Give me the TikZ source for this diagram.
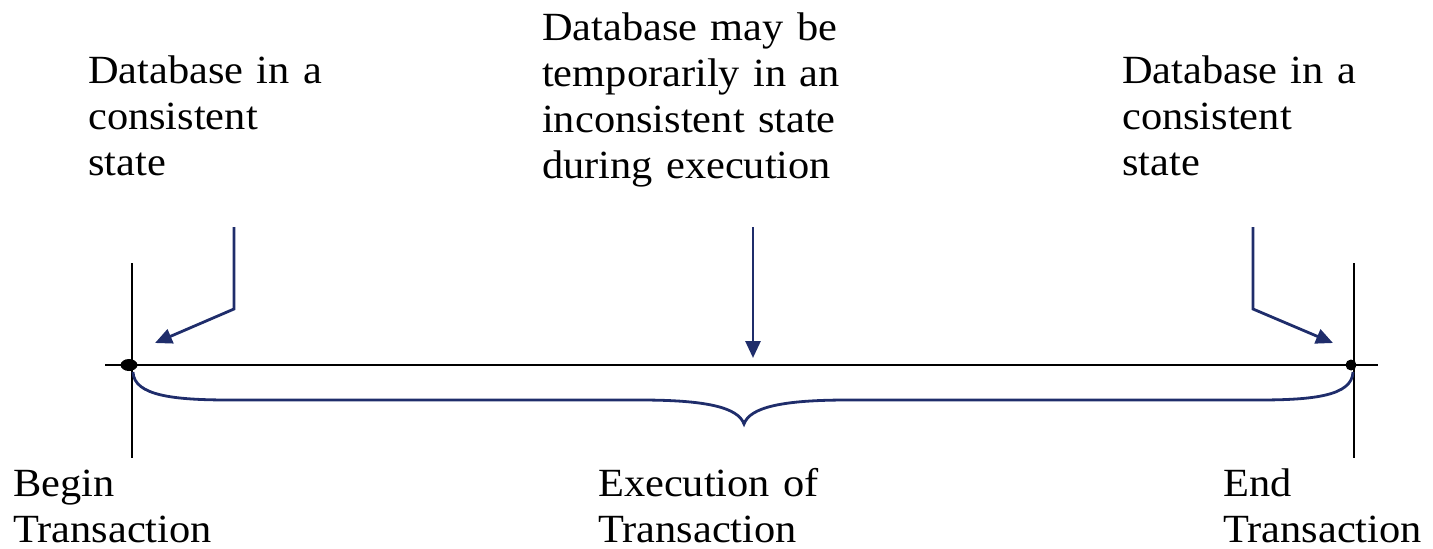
\documentclass[tikz,border=0pt]{standalone}
\usepackage{fontspec}
\setmainfont{Liberation Serif}[FakeStretch=1.06]
\usetikzlibrary{arrows.meta}
\definecolor{navy}{RGB}{31,45,107}
\tikzset{
  label/.style={inner sep=0pt, anchor=base west, text width=420pt, align=left,
    font=\fontsize{40}{46}\selectfont},
  axis/.style={draw=black, line width=2.8pt},
  pointer/.style={draw=navy, line width=2.8pt, -{Triangle[length=17pt,width=15pt]}},
  brace/.style={draw=navy, line width=2.8pt},
}
\begin{document}
\begin{tikzpicture}[x=1pt, y=-1pt]
\useasboundingbox (0,0) rectangle (1433,549);

% time axis and the two boundary marks
\coordinate (axL) at (105,365);
\coordinate (axR) at (1378,365);
\coordinate (bT) at (132,263);
\coordinate (bB) at (132,458);
\coordinate (eT) at (1354,263);
\coordinate (eB) at (1354,458);
\draw[axis] (axL) -- (axR);
\draw[axis] (bT) -- (bB);
\draw[axis] (eT) -- (eB);
\fill (129,365) ellipse [x radius=8.5, y radius=6];
\fill (1351,365) circle [radius=5.5];

% brace under the execution interval
\draw[brace] (133,372) .. controls (134,396) and (175,400) .. (230,400)
  -- (640,400) .. controls (705,400) and (738,407) .. (744,424)
  .. controls (750,407) and (783,400) .. (848,400)
  -- (1258,400) .. controls (1313,400) and (1352,396) .. (1353,372);

% labels
\node[label] (cs1) at (88,83) {Database in a\\consistent\\state};
\node[label] (mid) at (542,40) {Database may be\\temporarily in an\\inconsistent state\\during execution};
\node[label] (cs2) at (1122,83) {Database in a\\consistent\\state};
\node[label] (beg) at (13,496) {Begin\\Transaction};
\node[label] (exe) at (598,496) {Execution of\\Transaction};
\node[label] (end) at (1223,496) {End\\Transaction};

% pointers from the labels to the timeline
\coordinate (p1a) at (234,227);
\coordinate (p1b) at (234,309);
\coordinate (p1c) at (155,343);
\coordinate (p2a) at (753,227);
\coordinate (p2c) at (753,358);
\coordinate (p3a) at (1253,227);
\coordinate (p3b) at (1253,309);
\coordinate (p3c) at (1333,343);
\draw[pointer] (p1a) -- (p1b) -- (p1c);
\draw[pointer] (p2a) -- (p2c);
\draw[pointer] (p3a) -- (p3b) -- (p3c);
\end{tikzpicture}
\end{document}
